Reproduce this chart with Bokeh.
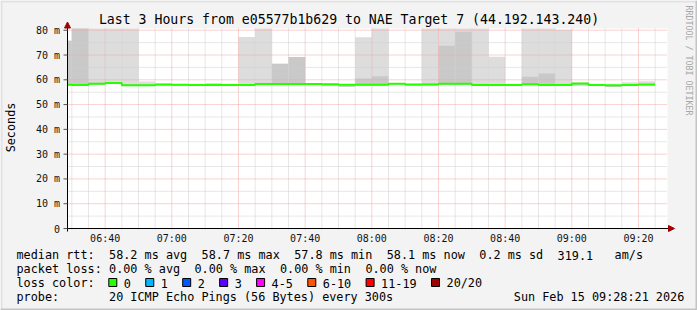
import numpy as np
from bokeh.plotting import figure
from bokeh.models import Range1d
from bokeh.core.properties import value
from bokeh.embed import file_html
from bokeh.resources import INLINE

# ---------------- data ----------------
# 5-minute intervals, start minute after midnight (06:25 ... 09:20)
bar_start = list(range(385, 565, 5))
median_ms = [58.0, 57.9, 58.4, 58.7, 57.8, 57.8, 58.1, 58.0, 57.9, 57.9,
             57.9, 57.9, 58.3, 58.3, 58.3, 58.3, 58.2, 58.0, 58.0, 58.0,
             58.4, 58.1, 58.1, 58.4, 58.4, 57.9, 57.9, 57.9, 58.2, 57.9,
             57.9, 58.5, 57.9, 57.8, 57.9, 58.1]
smoke_lo = [57.7, 57.6, 58.1, 58.3, 57.5, 57.6, 57.6, 57.6, 57.7, 57.7,
            57.6, 57.6, 58.0, 58.0, 58.0, 58.0, 57.7, 57.2, 57.7, 57.7,
            58.1, 57.6, 57.8, 58.0, 58.0, 57.6, 57.6, 57.6, 57.9, 57.6,
            57.6, 57.7, 57.6, 57.1, 57.6, 57.7]
smoke_hi = [75.8, 95.0, 95.0, 95.0, 95.0, 59.3, 58.5, 58.3, 58.2, 58.7,
            58.2, 77.3, 95.0, 66.5, 69.2, 58.6, 58.5, 58.3, 77.2, 95.0,
            58.7, 58.4, 95.0, 95.0, 95.0, 95.0, 69.3, 58.2, 95.0, 95.0,
            80.2, 58.9, 58.2, 58.1, 59.0, 59.4]
dense_hi = [75.8, 95.0, 58.9, 59.0, 58.3, 58.2, 58.3, 58.1, 58.0, 58.1,
            58.0, 58.3, 58.8, 66.5, 69.2, 58.4, 58.3, 58.1, 60.5, 61.4,
            58.5, 58.2, 58.6, 73.7, 79.4, 58.4, 58.2, 58.0, 61.2, 62.5,
            58.4, 58.6, 58.0, 57.9, 58.1, 58.3]

x_tick_pos = [400, 420, 440, 460, 480, 500, 520, 540, 560]
x_tick_labels = ["06:40", "07:00", "07:20", "07:40", "08:00", "08:20", "08:40", "09:00", "09:20"]
y_tick_pos = [0, 10, 20, 30, 40, 50, 60, 70, 80]
y_tick_labels = ["0", "10 m", "20 m", "30 m", "40 m", "50 m", "60 m", "70 m", "80 m"]
y_minor_pos = [5, 15, 25, 35, 45, 55, 65, 75]

title_text = "Last 3 Hours from e05577b1b629 to NAE Target 7 (44.192.143.240)"
y_title = "Seconds"
rtt_items = ["median rtt:", "58.2 ms avg", "58.7 ms max", "57.8 ms min", "58.1 ms now",
             "0.2 ms sd", "319.1", "am/s"]
rtt_cols = [0, 13, 26, 39, 52, 65, 76, 84]
loss_items = ["packet loss:", "0.00 % avg", "0.00 % max", "0.00 % min", "0.00 % now"]
loss_cols = [0, 13, 25, 37, 49]
loss_head = "loss color:"
loss_labels = ["0", "1", "2", "3", "4-5", "6-10", "11-19", "20/20"]
loss_colors = ["#26ff00", "#00b8ff", "#0059ff", "#5e00ff", "#ff00ff", "#ff5500", "#ff0000", "#a10000"]
probe_head = "probe:"
probe_text = "20 ICMP Echo Pings (56 Bytes) every 300s"
date_text = "Sun Feb 15 09:28:21 2026"
watermark = "RRDTOOL / TOBI OETIKER"

# ---------------- layout constants ----------------
W, H = 697, 310
FL, FR, FT, FB = 67, 30, 28, 82          # chart area inside the canvas
FW, FH = W - FL - FR, H - FT - FB
XR = (388.7, 568.7)                       # ~06:28:40 .. 09:28:40 in minutes
YR = (0.0, 80.7)                          # milliseconds
FONT = "DejaVu Sans Mono"

# The plot frame is the whole canvas in pixel units; the chart's time / ms scales
# are extra ranges laid over the same frame so that the chart area lands at FL..FL+FW, FT..FT+FH.
p = figure(width=W, height=H, output_backend="svg", toolbar_location=None, title=None,
           x_range=Range1d(0, W), y_range=Range1d(H, 0),
           min_border=0, x_axis_location=None, y_axis_location=None,
           background_fill_color="#f3f3f3", border_fill_color="#f3f3f3",
           outline_line_color=None)
p.grid.visible = False
t_px = (XR[1] - XR[0]) / FW
ms_px = (YR[1] - YR[0]) / FH
p.extra_x_ranges = {"t": Range1d(XR[0] - FL * t_px, XR[1] + FR * t_px)}
p.extra_y_ranges = {"ms": Range1d(YR[0] - FB * ms_px, YR[1] + FT * ms_px)}
TM = dict(x_range_name="t", y_range_name="ms")

# image border (3D frame)
p.quad(left=[0, 0], right=[W, 2], top=[0, 0], bottom=[2, H], fill_color="#e2e2e2", line_color=None)
p.quad(left=[W - 2, 0], right=[W, W], top=[0, H - 2], bottom=[H, H], fill_color="#c4c4c4", line_color=None)

# chart canvas
p.quad(left=[XR[0]], right=[XR[1]], bottom=[YR[0]], top=[YR[1]], fill_color="white", line_color=None, **TM)

# smoke
bar_end = [s + 5 for s in bar_start]
top_hi = [min(v, YR[1]) for v in smoke_hi]
top_dense = [min(v, YR[1]) for v in dense_hi]
left_clip = [max(s, XR[0]) for s in bar_start]
p.quad(left=left_clip, right=bar_end, bottom=smoke_lo, top=top_hi,
       fill_color="#dddddd", line_color=None, **TM)
p.quad(left=left_clip, right=bar_end, bottom=smoke_lo, top=top_dense,
       fill_color="#c9c9c9", line_color=None, **TM)

# grid (vertical lines run 2 px below the axis like rrdtool)
x_minor = [t for t in range(390, 570, 5) if t not in x_tick_pos]
p.segment(x0=x_minor, x1=x_minor, y0=[FT] * len(x_minor), y1=[FT + FH + 2] * len(x_minor),
          line_color="#cfcfcf", line_dash="1 1", line_width=1, x_range_name="t")
p.segment(x0=[FL] * len(y_minor_pos), x1=[FL + FW] * len(y_minor_pos), y0=y_minor_pos, y1=y_minor_pos,
          line_color="#cfcfcf", line_dash="1 1", line_width=1, y_range_name="ms")
p.segment(x0=x_tick_pos, x1=x_tick_pos, y0=[FT] * len(x_tick_pos), y1=[FT + FH + 2] * len(x_tick_pos),
          line_color="#f2a4a4", line_dash="1 1", line_width=1, x_range_name="t")
p.segment(x0=[FL] * 8, x1=[FL + FW] * 8, y0=y_tick_pos[1:], y1=y_tick_pos[1:],
          line_color="#f2a4a4", line_dash="1 1", line_width=1, y_range_name="ms")

# median line
xs, ys = [], []
for s, e, m in zip(left_clip, bar_end, median_ms):
    xs += [s, e]
    ys += [m, m]
p.line(xs, ys, line_color="#26ff00", line_width=2, **TM)

# axes
p.segment(x0=[FL - 3], x1=[FL + FW + 1], y0=[FT + FH], y1=[FT + FH], line_color="black", line_width=1)
p.segment(x0=[FL], x1=[FL], y0=[FT + FH + 3], y1=[FT - 1], line_color="black", line_width=1)
p.segment(x0=[FL - 4] * len(y_tick_pos), x1=[FL] * len(y_tick_pos), y0=y_tick_pos, y1=y_tick_pos,
          line_color="#555555", line_width=1, y_range_name="ms")
p.patch(x=[FL - 3, FL + 3, FL], y=[FT - 0.5, FT - 0.5, FT - 6.5], fill_color="#a00000", line_color="#a00000")
p.patch(x=[FL + FW + 1, FL + FW + 1, FL + FW + 7], y=[FT + FH - 3, FT + FH + 3, FT + FH],
        fill_color="#a00000", line_color="#a00000")

# tick labels
p.text(x=x_tick_pos, y=[FT + FH + 10.3] * len(x_tick_pos), text=x_tick_labels, x_range_name="t",
       text_font=value(FONT), text_font_size=value("10px"), text_color="#111111",
       text_align="center", text_baseline="middle")
p.text(x=[FL - 7.5] * len(y_tick_pos), y=y_tick_pos, text=y_tick_labels, y_range_name="ms",
       text_font=value(FONT), text_font_size=value("10px"), text_color="#111111",
       text_align="right", text_baseline="middle")

# titles
p.text(x=[348.5], y=[18.5], text=[title_text], text_font=value(FONT), text_font_size=value("13.2px"),
       text_color="#000000", text_align="center", text_baseline="middle")
p.text(x=[10.5], y=[127], text=[y_title], angle=np.pi / 2, text_font=value(FONT),
       text_font_size=value("11.8px"), text_color="#000000", text_align="center", text_baseline="middle")
p.text(x=[688], y=[60], text=[watermark], angle=-np.pi / 2, text_font=value(FONT),
       text_font_size=value("8.3px"), text_color="#a6a6a6", text_align="center", text_baseline="middle")

# legend
CW = 7.12
X0 = 16
lx, ly, lt = [], [], []
for t, c in zip(rtt_items, rtt_cols):
    lx.append(X0 + c * CW); ly.append(254.5); lt.append(t)
for t, c in zip(loss_items, loss_cols):
    lx.append(X0 + c * CW); ly.append(268.5); lt.append(t)
lx.append(X0); ly.append(282.5); lt.append(loss_head)
sq_x = []
sx = 108.3
for t in loss_labels:
    sq_x.append(sx)
    lx.append(sx + 15); ly.append(282.5); lt.append(t)
    sx = sx + 15 + len(t) * CW + 14.83
lx += [X0, X0 + 13 * CW, 513.3]
ly += [296.5, 296.5, 296.5]
lt += [probe_head, probe_text, date_text]
p.text(x=lx, y=ly, text=lt, text_font=value(FONT), text_font_size=value("11.8px"),
       text_color="#000000", text_align="left", text_baseline="middle")
p.quad(left=sq_x, right=[v + 8 for v in sq_x], top=[278] * len(sq_x), bottom=[286] * len(sq_x),
       fill_color=loss_colors, line_color="black", line_width=1)

open("out.html", "w").write(file_html(p, INLINE))
